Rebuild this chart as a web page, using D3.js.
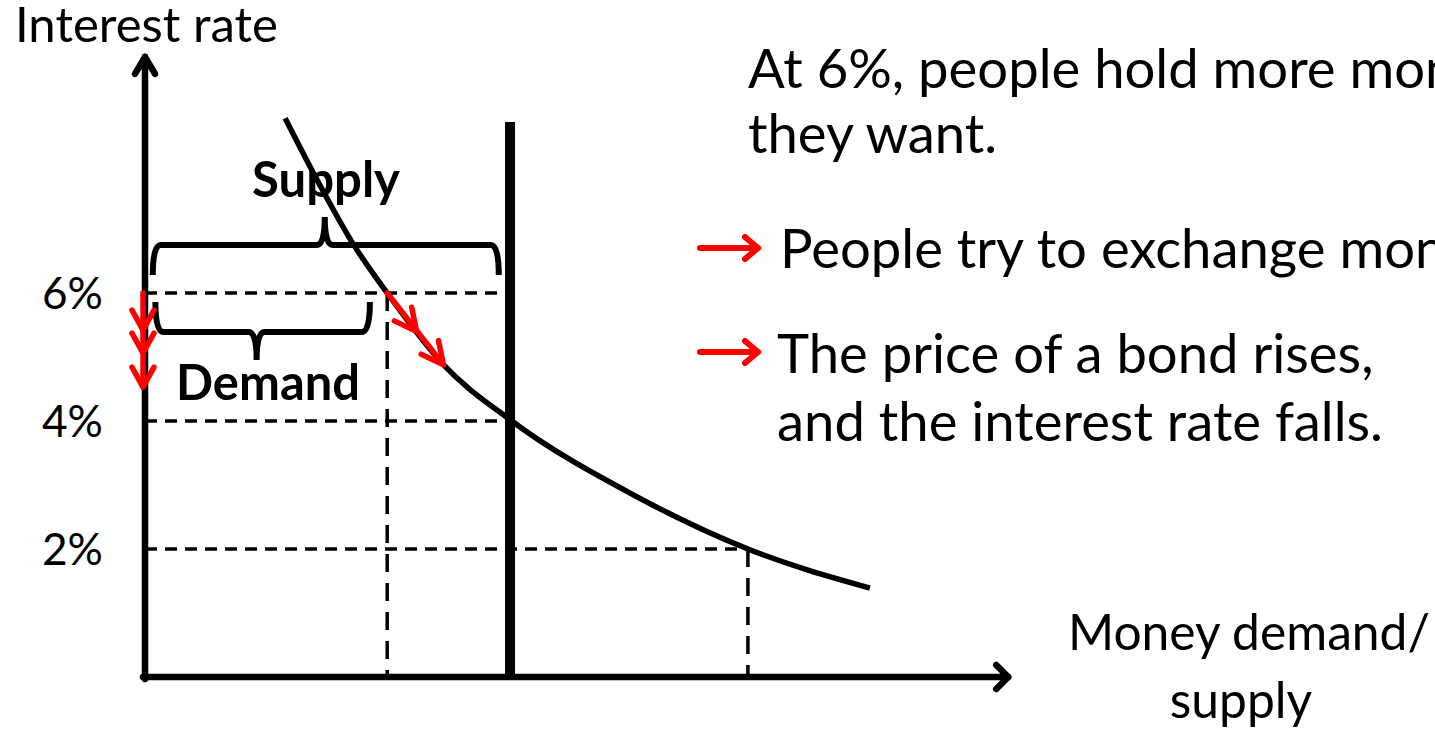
<!DOCTYPE html>
<html>
<head>
<meta charset="utf-8">
<script src="https://cdn.jsdelivr.net/npm/d3@7"></script>
<style>
  html, body { margin: 0; padding: 0; background: #fff; overflow: hidden; }
  text { font-family: Lato, "Open Sans", sans-serif; fill: #000; }
</style>
</head>
<body>
<svg id="chart" width="1435" height="733"></svg>
<script>
const width = 1435
const height = 733

// Money demand curve (quantity, interest rate %)
const demandQty  = [1.62, 2.02, 2.40, 2.80, 3.45, 4.22, 5.64, 6.97, 8.38]
const demandRate = [8.73, 7.69, 6.78, 6.00, 4.88, 4.02, 2.85, 2.00, 1.39]

// Money supply (vertical line)
const supplyQty = 4.22
const supplyTop = 8.67

// Interest rate ticks
const rateTicks = [2, 4, 6]
// Where each dashed guide meets the curve / supply
const guideRates = [6, 4, 2]
const guideQty   = [4.07, 4.22, 6.97]
const dropQty    = [2.80, 6.97]
const dropRate   = [6, 2]

// Red "falling rate" arrows (on the axis and along the curve)
const axisArrowRates = [5.42, 5.06, 4.53]
const curveArrowQty  = [2.80, 3.14, 3.45]
const curveArrowRate = [6.00, 5.40, 4.88]

// Braces: [qty start, qty end, rate at the bar]
const supplyBrace = [0.09, 4.09, 6.75]
const demandBrace = [0.12, 2.6, 5.39]

const notes = [
  "At 6%, people hold more money than",
  "they want.",
  "People try to exchange money for bonds.",
  "The price of a bond rises,",
  "and the interest rate falls."
]

const svg = d3.select("#chart")

const x = d3.scaleLinear().domain([0, 10]).range([145, 1010])
const y = d3.scaleLinear().domain([0, 10]).range([677, 37])

// shrink / grow a text so it is as wide as target
const fitText = (sel, target) => {
  const w = sel.node().getComputedTextLength()
  const fs = parseFloat(sel.attr("font-size"))
  const size = fs * target / w
  sel.attr("font-size", size)
  return size
}

// --- dashed guides ---
svg.append("g")
   .selectAll("line")
   .data(guideRates)
   .join("line")
     .attr("x1", x(0))
     .attr("x2", (d, i) => x(guideQty[i]))
     .attr("y1", d => y(d))
     .attr("y2", d => y(d))
     .attr("stroke", "#000")
     .attr("stroke-width", 3.5)
     .attr("stroke-dasharray", "12,8")

svg.append("g")
   .selectAll("line")
   .data(dropQty)
   .join("line")
     .attr("x1", d => x(d))
     .attr("x2", d => x(d))
     .attr("y1", (d, i) => y(dropRate[i]))
     .attr("y2", y(0))
     .attr("stroke", "#000")
     .attr("stroke-width", 3.5)
     .attr("stroke-dasharray", "18,11")

// --- supply line ---
svg.append("line")
   .attr("x1", x(supplyQty))
   .attr("x2", x(supplyQty))
   .attr("y1", y(0))
   .attr("y2", y(supplyTop))
   .attr("stroke", "#000")
   .attr("stroke-width", 10)

// --- demand curve ---
svg.append("path")
   .datum(demandQty.map((q, i) => [q, demandRate[i]]))
   .attr("fill", "none")
   .attr("stroke", "#000")
   .attr("stroke-width", 5.5)
   .attr("d", d3.line()
     .x(d => x(d[0]))
     .y(d => y(d[1]))
     .curve(d3.curveMonotoneX))

// --- axes with open arrow heads ---
const axisG = svg.append("g")
  .attr("fill", "none")
  .attr("stroke", "#000")
  .attr("stroke-width", 6.5)
  .attr("stroke-linecap", "round")
  .attr("stroke-linejoin", "round")

axisG.append("path")
  .attr("d", `M${x(0)},${y(0) + 2}V${y(9.69)}M${x(0) - 10},${y(9.69) + 17}L${x(0)},${y(9.69)}L${x(0) + 10},${y(9.69) + 17}`)
axisG.append("path")
  .attr("d", `M${x(0) - 2},${y(0)}H${x(9.98)}M${x(9.98) - 12},${y(0) - 12}L${x(9.98)},${y(0)}L${x(9.98) - 12},${y(0) + 12}`)

// tick labels
const yAxis = d3.axisLeft(y)
  .tickValues(rateTicks)
  .tickSize(0)
  .tickPadding(42)
  .tickFormat(d => d + "%")

const yAxisG = svg.append("g")
  .attr("transform", `translate(${x(0)},0)`)
  .call(yAxis)
yAxisG.select(".domain").remove()
yAxisG.selectAll("text")
  .attr("font-family", "Lato, 'Open Sans', sans-serif")
  .attr("font-size", 40)
  .attr("dy", "0.36em")
  .attr("fill", "#000")
const tickSize = fitText(yAxisG.select("text"), 61)
yAxisG.selectAll("text").attr("font-size", tickSize)

// --- braces ---
const brace = (b, dir) => {
  // dir = -1: tip up, ends down ; dir = 1: tip down, ends up
  const x0 = x(b[0]), x1 = x(b[1]), yb = y(b[2])
  const xm = (x0 + x1) / 2 + (dir < 0 ? -1 : -6)
  const e = -dir * 30, t = dir * 28, r = 8
  return `M${x0},${yb + e}` +
    `Q${x0},${yb} ${x0 + r},${yb}` +
    `H${xm - r}` +
    `Q${xm},${yb} ${xm},${yb + t}` +
    `Q${xm},${yb} ${xm + r},${yb}` +
    `H${x1 - r}` +
    `Q${x1},${yb} ${x1},${yb + e}`
}
svg.append("path")
  .attr("d", brace(supplyBrace, -1))
  .attr("fill", "none").attr("stroke", "#000").attr("stroke-width", 6)
svg.append("path")
  .attr("d", brace(demandBrace, 1))
  .attr("fill", "none").attr("stroke", "#000").attr("stroke-width", 6)

// --- red arrows ---
const red = "#ff0000"
const chevron = (px, py, dx, dy, len, spread) => {
  const n = Math.hypot(dx, dy), ux = dx / n, uy = dy / n
  const bx = px - ux * len, by = py - uy * len
  return `M${bx - uy * spread},${by + ux * spread}L${px},${py}L${bx + uy * spread},${by - ux * spread}`
}
const arrowG = svg.append("g")
  .attr("fill", "none")
  .attr("stroke", red)
  .attr("stroke-width", 5.5)
  .attr("stroke-linecap", "round")
  .attr("stroke-linejoin", "round")

arrowG.append("line")
  .attr("x1", x(0) - 2).attr("x2", x(0) - 2)
  .attr("y1", y(6)).attr("y2", y(d3.min(axisArrowRates)))
arrowG.selectAll(".axis-chev")
  .data(axisArrowRates)
  .join("path")
    .attr("class", "axis-chev")
    .attr("d", d => chevron(x(0) - 2, y(d), 0, 1, 20, 11))

arrowG.append("path")
  .attr("d", `M${x(curveArrowQty[0])},${y(curveArrowRate[0])}L${x(curveArrowQty[2])},${y(curveArrowRate[2])}`)
const cdx = x(curveArrowQty[2]) - x(curveArrowQty[0])
const cdy = y(curveArrowRate[2]) - y(curveArrowRate[0])
arrowG.selectAll(".curve-chev")
  .data(curveArrowQty.slice(1))
  .join("path")
    .attr("class", "curve-chev")
    .attr("d", (d, i) => chevron(x(d), y(curveArrowRate[i + 1]), cdx, cdy, 22, 11))

// --- labels ---
const title = svg.append("text")
  .attr("x", 15).attr("y", 42)
  .attr("font-size", 48)
  .text("Interest rate")
fitText(title, 263)

const supplyLabel = svg.append("text")
  .attr("x", 326).attr("y", 197)
  .attr("text-anchor", "middle")
  .attr("font-weight", "bold")
  .attr("font-size", 50)
  .text("Supply")
fitText(supplyLabel, 148)

const demandLabel = svg.append("text")
  .attr("x", 268).attr("y", 400)
  .attr("text-anchor", "middle")
  .attr("font-weight", "bold")
  .attr("font-size", 50)
  .text("Demand")
fitText(demandLabel, 184)

const xLabel1 = svg.append("text")
  .attr("x", 1068).attr("y", 650)
  .attr("font-size", 48)
  .text("Money demand/")
fitText(xLabel1, 362)
svg.append("text")
  .attr("x", 1241).attr("y", 718)
  .attr("text-anchor", "middle")
  .attr("font-size", xLabel1.attr("font-size"))
  .text("supply")

// --- explanation text ---
const noteX = [748, 748, 780, 777, 777]
const noteY = [88, 153, 268, 373, 441]
const noteText = svg.append("g")
  .selectAll("text")
  .data(notes)
  .join("text")
    .attr("x", (d, i) => noteX[i])
    .attr("y", (d, i) => noteY[i])
    .attr("font-size", 56)
    .text(d => d)
const noteSize = fitText(noteText.filter((d, i) => i === 4), 606)
noteText.attr("font-size", noteSize)

// red arrows before the bullet lines
const bulletY = [248, 352]
svg.append("g")
  .selectAll("path")
  .data(bulletY)
  .join("path")
    .attr("d", d => `M700,${d}H758` + chevron(758, d, 1, 0, 13, 11))
    .attr("fill", "none")
    .attr("stroke", red)
    .attr("stroke-width", 6)
    .attr("stroke-linecap", "round")
    .attr("stroke-linejoin", "round")
</script>
</body>
</html>
